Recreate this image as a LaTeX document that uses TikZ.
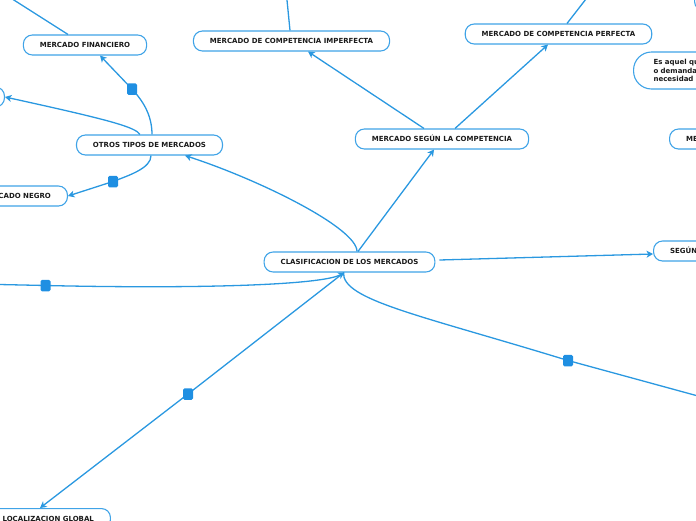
\documentclass[tikz,border=0pt]{standalone}
\usepackage{fontspec}
\setmainfont{DejaVu Sans}
\usetikzlibrary{arrows.meta,calc}
\definecolor{linec}{HTML}{2A98E0}
\definecolor{nodec}{HTML}{3FA3E7}
\definecolor{sqc}{HTML}{1F8FE2}
\definecolor{txtc}{HTML}{1A1A1A}
\begin{document}
\begin{tikzpicture}[x=1pt,y=-1pt,
  base/.style={draw=nodec, line width=1.1pt, fill=white, rounded corners=9pt,
    inner xsep=16.5pt, inner ysep=0pt, text=txtc,
    font=\bfseries\fontsize{7}{8.6}\selectfont},
  box/.style={base, minimum height=20pt, text height=5.1pt, text depth=0pt},
  conn/.style={draw=linec, line width=1.3pt},
  arr/.style={conn, -{Stealth[length=6.5pt,width=7pt,inset=1.8pt]}},
  sq/.style={fill=sqc, minimum width=10pt, minimum height=11.5pt, inner sep=0pt, rounded corners=1.5pt}]
\useasboundingbox (0,0) rectangle (696,520);
\begin{scope}
\clip (0,0) rectangle (696,520);
% nodes
\node[box] (fin) at (85,45) {MERCADO FINANCIERO};
\node[box] (mci) at (291.5,41) {MERCADO DE COMPETENCIA IMPERFECTA};
\node[box] (mcp) at (558.5,34) {MERCADO DE COMPETENCIA PERFECTA};
\node[box] (msc) at (442,139) {MERCADO SEGÚN LA COMPETENCIA};
\node[box] (otros) at (149.5,145) {OTROS TIPOS DE MERCADOS};
\node[box] (clas) at (349.5,262) {CLASIFICACION DE LOS MERCADOS};
\node[box, anchor=east] (negro) at (68,196) {MERCADO NEGRO};
\node[box, anchor=north west] (local) at (-14.5,508) {LOCALIZACION GLOBAL};
\node[box, anchor=east, minimum width=120pt] (left) at (5,97) {};
\node[box, anchor=south west, minimum width=80pt] (tr) at (694,11) {};
\node[base, anchor=west, rounded corners=18pt, minimum height=37pt, inner xsep=20pt,
      text width=110pt, align=left] (esaq) at (633,70.5) {Es aquel que\\o demanda\\necesidad};
\node[box, anchor=west, text width=60pt, align=left] (me) at (669,139) {ME};
\node[box, anchor=west, text width=60pt, align=left] (segun) at (653,251) {SEGÚN};
% helper coordinates
\coordinate (s1) at (132,89);
\coordinate (s2) at (113,181.5);
\coordinate (s3) at (45.5,285.5);
\coordinate (s4) at (188,394);
\coordinate (s5) at (568,360.5);
\coordinate (lft) at (-10,284.3);
\coordinate (offr) at (720,402);
\coordinate (offfin) at (-5,-12);
\coordinate (offmci) at (286,-10);
\coordinate (offmcp) at (593,-10);
% connectors
\draw[arr] ([xshift=2.5pt]otros.north) .. controls (152,114) and (142,100) .. (s1) -- ([xshift=15pt]fin.south);
\draw[arr] ([xshift=1.5pt]otros.south) .. controls (151,168) and (130,175) .. (s2) -- (negro.east);
\draw[arr] ([xshift=-9.5pt]otros.north) .. controls (135,127) and (110,120) .. (left.east);
\draw[arr] ([xshift=7.5pt]clas.north) .. controls (357,228) and (260,180) .. ([xshift=35.5pt]otros.south);
\draw[arr] ([xshift=8.5pt]clas.north) -- ([xshift=-8pt]msc.south);
\draw[arr] ([xshift=-18pt]msc.north) -- ([xshift=16.5pt]mci.south);
\draw[arr] ([xshift=13pt]msc.north) -- ([xshift=-10.5pt]mcp.south);
\draw[arr] ([xshift=4pt,yshift=2pt]clas.east) -- ([yshift=-3pt]segun.west);
\draw[arr] (lft) -- (s3) .. controls (200,289) and (322,285) .. ([xshift=-5pt]clas.south);
\draw[arr] ([xshift=-5.5pt]clas.south) -- (s4) -- ([xshift=54.5pt]local.north west);
\draw[conn] ([xshift=-6pt]clas.south) .. controls (342,300) and (420,315) .. (s5) -- (offr);
\draw[conn] ([xshift=-17pt]fin.north) -- (offfin);
\draw[conn] ([xshift=-1.5pt]mci.north) -- (offmci);
\draw[conn] ([xshift=8.5pt]mcp.north) -- (offmcp);
% markers
\node[sq] (q1) at (s1) {};
\node[sq] (q2) at (s2) {};
\node[sq] (q3) at (s3) {};
\node[sq] (q4) at (s4) {};
\node[sq] (q5) at (s5) {};
\end{scope}
\end{tikzpicture}
\end{document}
